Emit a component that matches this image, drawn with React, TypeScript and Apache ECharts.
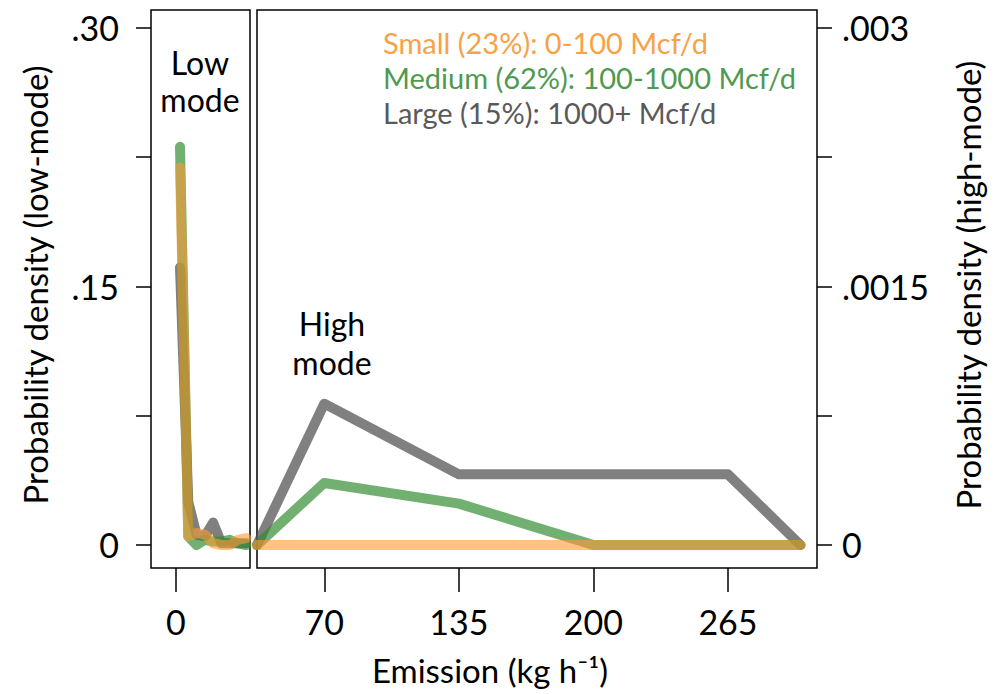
import React, { useEffect, useRef } from "react";
import * as echarts from "echarts";

// Low-mode panel (left axis)
const lowX = [2, 6, 10, 14, 18, 22, 26, 30, 34];
const lowSmall = [0.219, 0.005, 0.007, 0.006, 0.001, 0.0, 0.0, 0.003, 0.004];
const lowMedium = [0.231, 0.005, 0.0, 0.003, 0.002, 0.002, 0.003, 0.001, 0.0];
const lowLarge = [0.161, 0.025, 0.006, 0.005, 0.013, 0.001, 0.001, 0.001, 0.001];

// High-mode panel (right axis)
const highX = [37.5, 70, 135, 200, 265, 300];
const highSmall = [0, 0, 0, 0, 0, 0];
const highMedium = [0, 0.00036, 0.00024, 0, 0, 0];
const highLarge = [0, 0.00082, 0.00041, 0.00041, 0.00041, 0];

// Axis ticks / labels
const lowXTicks = [0];
const highXTicks = [70, 135, 200, 265];
const leftYTicks = [0, 0.075, 0.15, 0.225, 0.3];
const leftYLabelValues = [0, 0.15, 0.3];
const leftYLabels = ["0", ".15", ".30"];
const rightYTicks = [0, 0.00075, 0.0015, 0.00225, 0.003];
const rightYLabelValues = [0, 0.0015, 0.003];
const rightYLabels = ["0", ".0015", ".003"];

const legendLabels = [
  "Small (23%): 0-100 Mcf/d",
  "Medium (62%): 100-1000 Mcf/d",
  "Large (15%): 1000+ Mcf/d",
];

const FONT = "Lato, 'Noto Sans', sans-serif";
const C_SMALL = "rgba(255,153,51,0.6)";
const C_MED = "rgba(46,139,46,0.68)";
const C_LARGE = "rgba(85,85,85,0.75)";
const TICK_FS = 34;
const TITLE_FS = 33;

function pairs(xs: number[], ys: number[]) {
  return xs.map((x, i) => [x, ys[i]]);
}

function fmt(values: number[], labels: string[]) {
  return (v: number) => {
    for (let i = 0; i < values.length; i++) {
      if (Math.abs(values[i] - v) < 1e-9) return labels[i];
    }
    return "";
  };
}

function label(text: string, x: number, y: number, extra: any = {}) {
  return {
    type: "text",
    x,
    y,
    ...extra,
    style: {
      text,
      fill: "#000",
      fontSize: TITLE_FS,
      fontFamily: FONT,
      textAlign: "center",
      textVerticalAlign: "middle",
      ...(extra.style || {}),
    },
  };
}

export default function App() {
  const ref = useRef<HTMLDivElement>(null);
  useEffect(() => {
    if (!ref.current) return;
    const chart = echarts.init(ref.current, undefined, { renderer: "svg" });
    const tickStyle = { color: "#000", width: 1.5 };
    const lineSeries = (
      name: string,
      xi: number,
      data: number[][],
      color: string
    ) => ({
      name,
      type: "line",
      xAxisIndex: xi,
      yAxisIndex: xi,
      data,
      symbol: "none",
      clip: false,
      lineStyle: { color, width: 10, cap: "round", join: "round" },
      z: 2,
    });
    const xLabel = {
      formatter: (v: number) => String(v),
      fontSize: TICK_FS,
      fontFamily: FONT,
      color: "#000",
      margin: 36,
    };
    const legendItem = (text: string, y: number, fill: string) => ({
      type: "text",
      x: 383,
      y,
      style: {
        text,
        fill,
        fontSize: 29,
        lineHeight: 30,
        fontFamily: FONT,
        textVerticalAlign: "middle",
      },
    });
    const modeStyle = { style: { lineHeight: 30, fontSize: 32 } };
    chart.setOption({
      animation: false,
      backgroundColor: "#fff",
      grid: [
        {
          left: 151,
          top: 10,
          width: 99,
          height: 558,
          show: true,
          borderColor: "#000",
          borderWidth: 1.5,
          backgroundColor: "transparent",
        },
        {
          left: 257,
          top: 10,
          width: 560,
          height: 558,
          show: true,
          borderColor: "#000",
          borderWidth: 1.5,
          backgroundColor: "transparent",
        },
      ],
      xAxis: [
        {
          type: "value",
          gridIndex: 0,
          min: -12,
          max: 35.8,
          axisLine: { show: false, onZero: false },
          splitLine: { show: false },
          axisTick: {
            show: true,
            length: 24,
            lineStyle: tickStyle,
            customValues: lowXTicks,
          },
          axisLabel: { ...xLabel, customValues: lowXTicks },
        },
        {
          type: "value",
          gridIndex: 1,
          min: 37.5,
          max: 308,
          axisLine: { show: false, onZero: false },
          splitLine: { show: false },
          axisTick: {
            show: true,
            length: 24,
            lineStyle: tickStyle,
            customValues: highXTicks,
          },
          axisLabel: { ...xLabel, customValues: highXTicks },
        },
      ],
      yAxis: [
        {
          type: "value",
          gridIndex: 0,
          position: "left",
          min: -0.01335,
          max: 0.3104,
          axisLine: { show: false, onZero: false },
          splitLine: { show: false },
          axisTick: {
            show: true,
            length: 15,
            lineStyle: tickStyle,
            customValues: leftYTicks,
          },
          axisLabel: {
            customValues: leftYLabelValues,
            formatter: fmt(leftYLabelValues, leftYLabels),
            fontSize: TICK_FS,
            fontFamily: FONT,
            color: "#000",
            margin: 32,
          },
        },
        {
          type: "value",
          gridIndex: 1,
          position: "right",
          min: -0.0001335,
          max: 0.003104,
          axisLine: { show: false, onZero: false },
          splitLine: { show: false },
          axisTick: {
            show: true,
            length: 15,
            lineStyle: tickStyle,
            customValues: rightYTicks,
          },
          axisLabel: {
            customValues: rightYLabelValues,
            formatter: fmt(rightYLabelValues, rightYLabels),
            fontSize: TICK_FS,
            fontFamily: FONT,
            color: "#000",
            margin: 25,
          },
        },
      ],
      series: [
        lineSeries("Large low", 0, pairs(lowX, lowLarge), C_LARGE),
        lineSeries("Medium low", 0, pairs(lowX, lowMedium), C_MED),
        lineSeries("Small low", 0, pairs(lowX, lowSmall), C_SMALL),
        lineSeries("Large high", 1, pairs(highX, highLarge), C_LARGE),
        lineSeries("Medium high", 1, pairs(highX, highMedium), C_MED),
        lineSeries("Small high", 1, pairs(highX, highSmall), C_SMALL),
      ],
      graphic: [
        legendItem(legendLabels[0], 42, "#f7a246"),
        legendItem(legendLabels[1], 77, "#4e9a4e"),
        legendItem(legendLabels[2], 112, "#5a5a5a"),
        label("Low", 200, 62, modeStyle),
        label("mode", 200, 99, modeStyle),
        label("High", 332, 323, modeStyle),
        label("mode", 332, 362, modeStyle),
        label("Emission (kg h\u207B\u00B9)", 490, 670),
        label("Probability density (low-mode)", 35, 285, {
          rotation: Math.PI / 2,
        }),
        label("Probability density (high-mode)", 968, 285, {
          rotation: Math.PI / 2,
        }),
      ],
    });
    return () => chart.dispose();
  }, []);
  return (
    <div
      ref={ref}
      style={{ position: "fixed", left: 0, top: 0, width: 997, height: 694 }}
    />
  );
}
